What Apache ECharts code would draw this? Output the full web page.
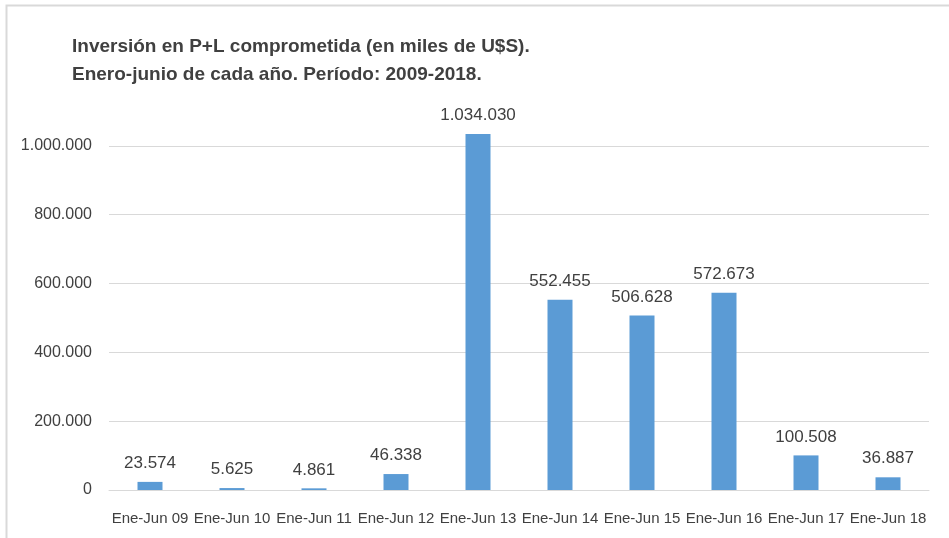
<!DOCTYPE html>
<html>
<head>
<meta charset="utf-8">
<script src="https://cdn.jsdelivr.net/npm/echarts@6/dist/echarts.min.js"></script>
<style>html,body{margin:0;padding:0;background:#fff}#c{width:949px;height:538px}</style>
</head>
<body>
<div id="c"></div>
<script>
var categories = ['Ene-Jun 09','Ene-Jun 10','Ene-Jun 11','Ene-Jun 12','Ene-Jun 13','Ene-Jun 14','Ene-Jun 15','Ene-Jun 16','Ene-Jun 17','Ene-Jun 18'];
var values = [23574, 5625, 4861, 46338, 1034030, 552455, 506628, 572673, 100508, 36887];
var titleLines = ['Inversión en P+L comprometida (en miles de U$S).', 'Enero-junio de cada año. Período: 2009-2018.'];

function fmt(v){ return String(Math.round(v)).replace(/\B(?=(\d{3})+(?!\d))/g, '.'); }

var chart = echarts.init(document.getElementById('c'), null, {renderer:'canvas'});
var FONT = 'Liberation Sans';
chart.setOption({
  animation: false,
  title: {
    text: titleLines.join('\n'),
    left: 72, top: 33, padding: 0,
    textStyle: {fontFamily: FONT, fontWeight: 'bold', fontSize: 19, color: '#404040', lineHeight: 28}
  },
  graphic: [{
    type: 'rect', shape: {x: 6.5, y: 5.5, width: 1000, height: 600},
    style: {fill: 'none', stroke: '#d9d9d9', lineWidth: 2}, silent: true
  }],
  grid: {left: 109, right: 20, top: 132, bottom: 48, containLabel: false},
  xAxis: {
    type: 'category', data: categories,
    axisLine: {lineStyle: {color: '#d9d9d9'}},
    axisTick: {show: false},
    axisLabel: {fontFamily: FONT, fontSize: 15, color: '#404040', margin: 21, interval: 0}
  },
  yAxis: {
    type: 'value', min: 0, max: 1040000, interval: 200000,
    axisLine: {show: false}, axisTick: {show: false},
    splitLine: {lineStyle: {color: '#d9d9d9'}, showMaxLine: false},
    axisLabel: {fontFamily: FONT, fontSize: 16, color: '#404040', margin: 17, showMaxLabel: false,
      formatter: function(v){ return v % 200000 === 0 ? fmt(v) : ''; }}
  },
  series: [{
    type: 'bar', data: values, barWidth: 25,
    itemStyle: {color: '#5b9bd5'},
    label: {show: true, position: 'top', distance: 10, fontFamily: FONT, fontSize: 17, color: '#404040',
      formatter: function(p){ return fmt(p.value); }}
  }]
});
</script>
</body>
</html>
